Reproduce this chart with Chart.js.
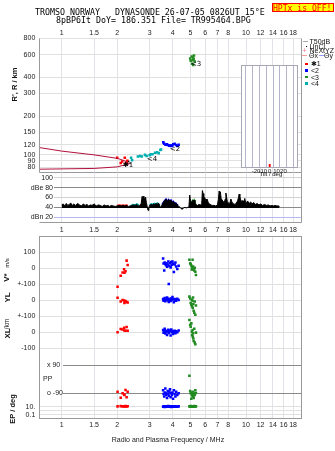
<!DOCTYPE html>
<html><head><meta charset="utf-8">
<script src="https://cdn.jsdelivr.net/npm/chart.js@4.4.1/dist/chart.umd.min.js"></script>
<style>
html,body{margin:0;padding:0;background:#fff;}
#wrap{position:relative;width:335px;height:451px;overflow:hidden;background:#fff;}
#wrap canvas{position:absolute;left:0;top:0;}
.tx{position:absolute;white-space:pre;line-height:1;color:#000;}
.mono{font-family:"DejaVu Sans Mono",monospace;font-size:8.3px;}
.sm{font-family:"Liberation Sans","DejaVu Sans",sans-serif;font-size:7px;color:#111;}
.sq{position:absolute;width:2.6px;height:2.6px;}
.ln{position:absolute;height:1px;}
</style></head><body>
<div id="wrap">
<canvas id="cRange" width="335" height="451"></canvas>
<canvas id="cDbe" width="335" height="451"></canvas>
<canvas id="cLow" width="335" height="451"></canvas>
<canvas id="cTilt" width="335" height="451"></canvas>
<div class="tx mono" style="left:35px;top:8.3px">TROMSO NORWAY   DYNASONDE 26-07-05 0826UT 15°E</div>
<div class="tx mono" style="left:56px;top:16.3px">8pBP6It DoY= 186.351 File= TR995464.BPG</div>
<div style="position:absolute;left:271.5px;top:2.5px;width:60px;height:7.5px;border:1px solid #f00;background:#ff0;"></div>
<div class="tx mono" style="left:273px;top:3.8px;color:#f00;font-size:8.1px">HPTx is OFF!</div>

<div class="ln" style="left:302.5px;top:40.5px;width:5px;background:#aaa"></div>
<div class="tx sm" style="left:309.5px;top:37.6px">T50dB</div>
<div class="sq" style="left:306px;top:45.5px;width:1px;height:1px;background:#000"></div>
<div class="tx sm" style="left:309.5px;top:42.6px">UnCl</div>
<div class="tx sm" style="left:302.5px;top:46.9px;color:#f07090">+</div>
<div class="tx sm" style="left:309.5px;top:46.9px">NeXtYZ</div>
<div class="ln" style="left:302px;top:54.5px;width:5px;background:#f99"></div>
<div class="tx sm" style="left:309px;top:51.6px">Θx</div>
<div class="ln" style="left:318.5px;top:54.5px;width:5px;background:#99f"></div>
<div class="tx sm" style="left:324px;top:51.6px">Θy</div>
<div class="sq" style="left:305px;top:62.5px;background:#f00"></div>
<div class="tx sm" style="left:311px;top:60.3px">✱1</div>
<div class="sq" style="left:305px;top:69px;background:#00f"></div>
<div class="tx sm" style="left:311px;top:66.9px">&lt;2</div>
<div class="sq" style="left:305px;top:75.5px;background:#228b22"></div>
<div class="tx sm" style="left:311px;top:73.6px">&lt;3</div>
<div class="sq" style="left:305px;top:82px;background:#00b0b0"></div>
<div class="tx sm" style="left:311px;top:79.9px">&lt;4</div>

<div class="tx sm" style="left:259.5px;top:171.3px;font-size:6px">Tilt / deg</div>
<div class="tx sm" style="left:111.7px;top:435.9px;color:#222">Radio and Plasma Frequency / MHz</div>
</div>
<script>
// ---------------- DATA ----------------
const freqTicks=[1,1.5,2,3,4,5,6,7,8,10,12,14,16,18];
const freqTickLabels=['1','1.5','2','3','4','5','6','7','8','10','12','14','16','18'];
const rangeTicks=[80,90,100,120,150,200,300,400,600,800];

// model (reference) traces, km
const modelUpperF=[0.70,1.00,1.50,2.00,2.20,2.33];
const modelUpperR=[116,107,100,94,90,85.5];
const modelLowerF=[0.70,1.50,2.00,2.33];
const modelLowerR=[77.3,78.5,80.7,85.5];

// virtual heights of echoes
const rRedF=[2.00,2.09,2.13,2.20,2.23,2.27];
const rRedR=[95,86.5,89,95,87,90];
const rBlueF=[3.56,3.60,3.66,3.72,3.76,3.83,3.88,3.92,3.98,4.03,4.10,4.17,4.24,4.31];
const rBlueR=[125,122,120,121,119.5,118,118,117.5,118,121,122,119.5,117,120];
const rGreenF=[5.01,5.07,5.10,5.13,5.17,5.17,5.20,5.27,4.98,5.22];
const rGreenR=[537,580,510,543,570,498,553,530,560,590];
const rCyanF=[2.38,2.41,2.59,2.66,2.72,2.83,2.89,3.00,3.04,3.11,3.21,3.30,3.36,3.43,3.46];
const rCyanR=[95,91,97,98,97,100,98,99.5,101,101,104,105,103,109,110];
const rUnclF=[2.22,2.28,2.31,2.35];
const rUnclR=[87,84,89,86];
const rangeLabelText=['✱1','<4','<2','<3'];
const rangeLabelF=[2.29,3.09,4.12,5.36];
const rangeLabelR=[83.2,93.4,111.7,509];

// echo amplitude (dB)
const dbeF=[1.00,1.02,1.04,1.06,1.08,1.10,1.12,1.14,1.16,1.19,1.22,1.25,1.28,1.31,1.34,1.37,1.40,1.43,1.46,1.50,1.54,1.58,1.62,1.66,1.70,1.74,1.78,1.82,1.86,1.90,1.95,
 2.00,2.05,2.10,2.15,2.20,2.25,2.30,2.35,2.40,2.45,2.50,2.55,2.60,2.65,
 2.70,2.73,2.76,2.79,2.82,2.85,2.88,2.91,2.94,2.97,
 3.00,3.05,3.10,3.15,3.20,3.25,3.30,3.35,3.40,3.45,
 3.50,3.56,3.62,3.68,3.74,3.80,3.86,3.92,3.98,4.04,4.10,4.16,4.22,4.28,
 4.35,4.42,4.50,4.58,4.66,4.74,4.82,4.90,4.95,4.98,
 5.03,5.08,5.13,5.18,5.23,5.28,5.35,5.45,5.55,5.65,5.75,
 5.80,5.85,5.90,5.97,6.05,6.15,6.25,6.35,6.45,6.55,6.70,6.85,
 7.00,7.08,7.15,7.20,7.26,7.33,7.42,7.52,7.62,7.72,7.78,7.84,7.92,8.02,
 8.15,8.28,8.36,8.45,8.58,8.72,8.86,9.00,9.10,9.18,9.26,9.36,9.48,9.60,9.72,9.85,9.95,
 10.05,10.2,10.4,10.6,10.8,11.0,11.25,11.5,11.75,12.0,12.3,12.6,12.9,13.2,13.5,13.8,14.1,14.4,14.7,15.0,15.2];
const dbeV=[45,47,43,48,44,46,49,43,47,44,48,45,43,47,44,46,43,45,44,47,43,45,44,42,45,43,44,42,44,43,42,
 43,44,43,44,43,44,42,43,44,45,44,46,43,44,
 48,62,57,63,54,61,50,42,34,40,
 44,46,45,47,46,48,46,49,44,39,
 45,50,54,57,52,56,53,55,50,52,48,49,46,44,
 41,39,36,39,40,39,40,41,65,58,
 51,49,54,52,55,49,46,44,46,45,47,
 74,68,56,60,54,57,49,47,45,44,44,43,
 45,56,73,66,71,58,55,52,50,57,69,61,52,49,
 47,57,52,49,47,46,49,53,60,67,62,55,52,54,51,58,50,
 49,53,48,51,47,50,46,48,45,47,44,46,44,45,43,44,43,44,43,43,42];
const dbeRedF=[2.00,2.05,2.10,2.15,2.20,2.25,2.28];
const dbeRedV=[44,45,44,45,44,45,44];
const dbeCyanF=[2.38,2.44,2.50,2.56,2.62,2.68,3.00,3.06,3.12,3.18,3.24,3.30,3.36,3.42];
const dbeCyanV=[44,46,45,47,45,null,45,47,46,48,47,49,46,45];
const dbeBlueF=[3.50,3.56,3.62,3.68,3.74,3.80,3.86,3.92,3.98,4.04,4.10,4.16,4.22,4.28];
const dbeBlueV=[46,50,54,57,52,56,53,55,50,52,48,49,46,45];
const dbeGreenF=[4.98,5.03,5.08,5.13,5.18,5.23,5.28,5.33];
const dbeGreenV=[47,51,49,54,52,55,50,47];
const dbeLineVals=[100,80,60,40,20];
const dbeLineLabels=['100','dBe 80','60','40','dBn 20'];

// echo parameters: V* (m/s), YL, XL (km), PP (deg), EP (deg)
const lowRedF=[2.01,2.09,2.14,2.18,2.19,2.22,2.25,2.28];
const lowRedV=[-117,-48,-28,-8,-30,-20,46,19];
const lowRedYL=[14,-10,0,-3,-18,-6,-12,-15];
const lowRedXL=[-2,19,15,27,10,8,31,8];
const lowRedPP=[-80,-118,-90,-97,-100,-69,-115,-80];
const lowRedEP=[12,14,12,13,12,14,12,13];

const lowBlueF=[3.55,3.57,3.60,3.62,3.65,3.68,3.70,3.73,3.76,3.79,3.81,3.84,3.87,3.90,3.93,3.96,3.99,4.02,4.06,4.10,4.14,4.18,4.24,4.31];
const lowBlueV=[60,28,-16,35,25,18,30,8,22,40,-100,12,30,4,38,20,40,26,-25,22,34,10,-6,14];
const lowBlueYL=[6,-4,2,12,-8,4,0,16,-2,8,-12,2,6,-6,10,0,18,4,-14,6,2,-4,8,0];
const lowBlueXL=[12,-4,6,20,-10,2,8,-18,4,14,-6,0,10,-22,16,-2,6,-12,2,8,-8,4,-2,10];
const lowBluePP=[-70,-95,-110,-85,-60,-100,-90,-120,-75,-95,-105,-80,-65,-115,-90,-100,-85,-125,-70,-95,-110,-80,-100,-90];
const lowBlueEP=[10,12,11,9,13,10,11,12,10,14,11,10,12,11,9,13,10,12,11,10,12,11,10,12];

const lowGreenF=[4.93,4.98,5.01,5.05,5.08,5.10,5.13,5.14,5.16,5.18,5.20,5.24,5.27,5.31,5.35];
const lowGreenV=[52,30,23,15,-10,4,52,-10,10,-2,-5,-15,2,-23,-44];
const lowGreenYL=[21,10,-19,-30,2,-40,-5,-50,15,-25,-67,-80,-10,-92,-35];
const lowGreenXL=[75,45,33,54,2,-19,12,-29,-8,-40,-56,20,-66,-77,-4];
const lowGreenPP=[22,-75,-90,-125,-100,-85,-110,-95,-80,-105,-120,-90,-100,-70,-88];
const lowGreenEP=[12,10,14,11,12,10,13,11,12,10,12,14,11,13,12];

// tilt histogram
const tiltGrid=[-30,-20,-10,0,10,20,30];
const tiltLabels=['','-20','-10','0','10','20',''];
const tiltDeg=[0];
const tiltCount=[1];

// ---------------- STYLE / LAYOUT ----------------
const F_MIN=0.756, F_MAX=20.05;
const GRID_V='#e2e2e8', GRID_H='#e0e0e0', FRAME_C='#9a9a9a';
const C_RED='#ff0000', C_BLUE='#0000ff', C_GREEN='#228b22', C_CYAN='#00b0b0', C_MODEL='#b4103c';
Chart.defaults.animation=false;
Chart.defaults.events=[];
Chart.defaults.plugins.legend.display=false;
Chart.defaults.plugins.tooltip.enabled=false;
Chart.defaults.font.family='"Liberation Sans","DejaVu Sans",sans-serif';

const zip=(a,b)=>a.map((v,i)=>({x:v,y:b[i]}));
function freqAxis(position, showLabels, tickPad, axisH){
  return {type:'logarithmic', position, min:F_MIN, max:F_MAX,
    afterBuildTicks(s){ s.ticks=freqTicks.map(v=>({value:v})); },
    afterFit(s){ s.height=axisH; },
    grid:{color:GRID_V, lineWidth:1, drawTicks:false},
    border:{display:false},
    ticks:{display:showLabels, autoSkip:false, maxRotation:0, minRotation:0, padding:tickPad,
      font:{size:7}, color:'#222', callback:(v,i)=>freqTickLabels[i]}};
}
function pts(color, F, R, r){
  return {data:zip(F,R), backgroundColor:color, borderWidth:0, pointStyle:'rect', pointRadius:r||1.8};
}
const px=v=>Math.floor(v)+0.5;

// ---------------- RANGE PANEL ----------------
const rangeDeco={id:'rangeDeco',
  afterDatasetsDraw(chart){
    const {ctx,chartArea:a,scales:{x,y}}=chart;
    ctx.save();
    ctx.strokeStyle=FRAME_C; ctx.lineWidth=1;
    ctx.beginPath(); ctx.moveTo(px(a.left),a.top); ctx.lineTo(px(a.left),px(a.bottom));
    ctx.lineTo(px(a.right),px(a.bottom)); ctx.lineTo(px(a.right),a.top); ctx.stroke();
    ctx.fillStyle='#000'; ctx.font='7px "DejaVu Sans"'; ctx.textAlign='center'; ctx.textBaseline='middle';
    rangeLabelText.forEach((t,i)=>ctx.fillText(t,x.getPixelForValue(rangeLabelF[i]),y.getPixelForValue(rangeLabelR[i])));
    ctx.translate(14.5,84.5); ctx.rotate(-Math.PI/2);
    ctx.font='bold 7.5px "Liberation Sans"'; ctx.fillStyle='#111';
    ctx.fillText("R', R / km",0,0);
    ctx.restore();
  }};
new Chart(document.getElementById('cRange'),{
  type:'scatter',
  data:{datasets:[
    {data:zip(modelUpperF,modelUpperR), showLine:true, borderColor:C_MODEL, borderWidth:1, pointRadius:0, fill:false},
    {data:zip(modelLowerF,modelLowerR), showLine:true, borderColor:C_MODEL, borderWidth:1, pointRadius:0, fill:false},
    pts('#000',rUnclF,rUnclR,0.9),
    pts(C_CYAN,rCyanF,rCyanR),
    pts(C_RED,rRedF,rRedR),
    pts(C_BLUE,rBlueF,rBlueR),
    pts(C_GREEN,rGreenF,rGreenR)
  ]},
  options:{responsive:false, maintainAspectRatio:false,
    layout:{padding:{left:0,right:33.3,top:28.5,bottom:278.5}},
    scales:{
      x:freqAxis('top',true,1,10),
      y:{type:'logarithmic', min:73, max:800,
        afterBuildTicks(s){ s.ticks=rangeTicks.map(v=>({value:v})); },
        afterFit(s){ s.width=39.3; },
        grid:{color:GRID_H, drawTicks:false}, border:{display:false},
        ticks:{padding:4, font:{size:7}, color:'#222', autoSkip:false, callback:(v,i)=>String(rangeTicks[i])}}
    }},
  plugins:[rangeDeco]
});

// ---------------- dBe PANEL ----------------
const dbeLineColors=['#d2d2d2','#8a8a8a','#d2d2d2','#8a8a8a','#b4baf0'];
const dbeDeco={id:'dbeDeco',
  beforeDatasetsDraw(chart){
    const {ctx,chartArea:a,scales:{y}}=chart;
    ctx.save(); ctx.lineWidth=1;
    dbeLineVals.forEach((v,i)=>{ const yy=px(y.getPixelForValue(v));
      ctx.strokeStyle=dbeLineColors[i]; ctx.beginPath(); ctx.moveTo(54,yy); ctx.lineTo(a.right,yy); ctx.stroke(); });
    ctx.restore();
  },
  afterDraw(chart){
    const {ctx,chartArea:a,scales:{y}}=chart;
    ctx.save();
    ctx.strokeStyle=FRAME_C; ctx.lineWidth=1;
    ctx.beginPath(); ctx.moveTo(px(a.left),px(a.bottom)); ctx.lineTo(px(a.right),px(a.bottom)); ctx.lineTo(px(a.right),a.top); ctx.stroke();
    ctx.fillStyle='#222'; ctx.font='7px "Liberation Sans"'; ctx.textAlign='right'; ctx.textBaseline='middle';
    dbeLineVals.forEach((v,i)=>ctx.fillText(dbeLineLabels[i],53,y.getPixelForValue(v)));
    ctx.restore();
  }};
function seg(color,F,V,base,w){
  return {data:zip(F,V), borderColor:color, backgroundColor:color, borderWidth:w, pointRadius:0, fill:{value:base}, tension:0, spanGaps:false};
}
new Chart(document.getElementById('cDbe'),{
  type:'line',
  data:{datasets:[
    seg('#000',dbeF,dbeV,38.8,1),
    seg(C_RED,dbeRedF,dbeRedV,41,1.5),
    seg(C_CYAN,dbeCyanF,dbeCyanV,41,1.5),
    seg(C_BLUE,dbeBlueF,dbeBlueV,41,1.5),
    seg(C_GREEN,dbeGreenF,dbeGreenV,41,1.5)
  ]},
  options:{responsive:false, maintainAspectRatio:false,
    layout:{padding:{left:39.3,right:33.3,top:172.5,bottom:217}},
    scales:{x:freqAxis('bottom',true,3.8,12), y:{type:'linear',min:10.5,max:110.5,display:false}}},
  plugins:[dbeDeco]
});

// ---------------- LOWER PANEL ----------------
const rowV=v=>31.3-0.16*v;
const rowYL=v=>63.3-0.16*v;
const rowXL=v=>95.3-0.16*v;
const rowPP=p=>142.45-p*(28.3/180);
const rowEP=e=>174-4*Math.log10(e);
function lowPoints(F,V,YL,XL,PP,EP){
  const out=[];
  F.forEach((f,i)=>{ out.push({x:f,y:rowV(V[i])},{x:f,y:rowYL(YL[i])},{x:f,y:rowXL(XL[i])},{x:f,y:rowPP(PP[i])},{x:f,y:rowEP(EP[i])}); });
  return out;
}
const lowLightLines=[rowV(100),rowV(0),rowV(-100),rowYL(0),rowYL(-100),rowXL(0),rowXL(-100),rowEP(10),rowEP(1),rowEP(0.1)];
const lowDarkLines=[rowPP(90),rowPP(-90)];
const lowLabelText=['100','0','+-100','0','+-100','0','-100','10.','0.1'];
const lowLabelY=[rowV(100),rowV(0),rowV(-100),rowYL(0),rowYL(-100),rowXL(0),rowXL(-100),rowEP(10),rowEP(0.1)];
const lowInnerText=['x 90','PP','o -90'];
const lowInnerY=[rowPP(90),rowPP(0),rowPP(-90)];
const lowInnerX=[47,43,47];
const lowDeco={id:'lowDeco',
  beforeDatasetsDraw(chart){
    const {ctx,chartArea:a,scales:{y}}=chart;
    ctx.save(); ctx.lineWidth=1;
    ctx.strokeStyle='#e0e0e0';
    lowLightLines.forEach(v=>{const yy=px(y.getPixelForValue(v)); ctx.beginPath(); ctx.moveTo(a.left,yy); ctx.lineTo(a.right,yy); ctx.stroke();});
    ctx.strokeStyle='#8a8a8a';
    lowDarkLines.forEach(v=>{const yy=px(y.getPixelForValue(v)); ctx.beginPath(); ctx.moveTo(63,yy); ctx.lineTo(a.right,yy); ctx.stroke();});
    ctx.restore();
  },
  afterDraw(chart){
    const {ctx,chartArea:a,scales:{y}}=chart;
    ctx.save();
    ctx.strokeStyle=FRAME_C; ctx.lineWidth=1;
    ctx.strokeRect(px(a.left),px(a.top),Math.round(a.right-a.left),Math.round(a.bottom-a.top));
    ctx.fillStyle='#222'; ctx.font='7px "Liberation Sans"'; ctx.textBaseline='middle';
    ctx.textAlign='right';
    lowLabelText.forEach((t,i)=>ctx.fillText(t,35.3,y.getPixelForValue(lowLabelY[i])));
    ctx.textAlign='left';
    lowInnerText.forEach((t,i)=>ctx.fillText(t,lowInnerX[i],y.getPixelForValue(lowInnerY[i])));
    const rot=(t,x0,y0,font)=>{ctx.save();ctx.translate(x0,y0);ctx.rotate(-Math.PI/2);ctx.font=font;ctx.textAlign='center';ctx.fillText(t,0,0);ctx.restore();};
    ctx.fillStyle='#111';
    rot('V*',7.2,277.5,'bold 8px "Liberation Sans"');
    rot('m/s',7.2,263,'6px "Liberation Sans"');
    rot('YL',7.8,297.5,'bold 8px "Liberation Sans"');
    rot('/km',7.2,324,'6.5px "Liberation Sans"');
    rot('XL',7.5,333.5,'bold 8px "Liberation Sans"');
    rot('EP / deg',12.5,409,'bold 7.5px "Liberation Sans"');
    ctx.restore();
  }};
function lowSet(color,data){return {data, backgroundColor:color, borderWidth:0, pointStyle:'rect', pointRadius:1.8};}
new Chart(document.getElementById('cLow'),{
  type:'scatter',
  data:{datasets:[
    lowSet(C_RED,lowPoints(lowRedF,lowRedV,lowRedYL,lowRedXL,lowRedPP,lowRedEP)),
    lowSet(C_BLUE,lowPoints(lowBlueF,lowBlueV,lowBlueYL,lowBlueXL,lowBluePP,lowBlueEP)),
    lowSet(C_GREEN,lowPoints(lowGreenF,lowGreenV,lowGreenYL,lowGreenXL,lowGreenPP,lowGreenEP))
  ]},
  options:{responsive:false, maintainAspectRatio:false,
    layout:{padding:{left:39.3,right:33.3,top:236.7,bottom:20}},
    scales:{x:freqAxis('bottom',true,2.1,12), y:{type:'linear',reverse:true,min:0,max:182.3,display:false}}},
  plugins:[lowDeco]
});

// ---------------- TILT INSET ----------------
const tiltDeco={id:'tiltDeco',
  beforeDraw(chart){const {ctx,chartArea:a}=chart; ctx.save(); ctx.fillStyle='#fff'; ctx.fillRect(a.left,a.top,a.right-a.left,a.bottom-a.top); ctx.restore();},
  afterDraw(chart){const {ctx,chartArea:a}=chart; ctx.save(); ctx.strokeStyle='#a8a8b4'; ctx.lineWidth=1;
    ctx.strokeRect(px(a.left),px(a.top),Math.round(a.right-a.left),Math.round(a.bottom-a.top)); ctx.restore();}
};
new Chart(document.getElementById('cTilt'),{
  type:'bar',
  data:{datasets:[{data:zip(tiltDeg,tiltCount), backgroundColor:C_RED, barThickness:1.2}]},
  options:{responsive:false, maintainAspectRatio:false,
    layout:{padding:{left:241.7,right:37.3,top:65,bottom:275.7}},
    scales:{
      x:{type:'linear',min:-35,max:35,
        afterBuildTicks(s){ s.ticks=tiltGrid.map(v=>({value:v})); },
        afterFit(s){ s.height=8; },
        grid:{color:'#b4b4cc',drawTicks:false}, border:{display:false},
        ticks:{font:{size:6},padding:0,color:'#222',autoSkip:false,maxRotation:0,callback:(v,i)=>tiltLabels[i]}},
      y:{min:0,max:34,display:false}
    }},
  plugins:[tiltDeco]
});
</script>
</body></html>
